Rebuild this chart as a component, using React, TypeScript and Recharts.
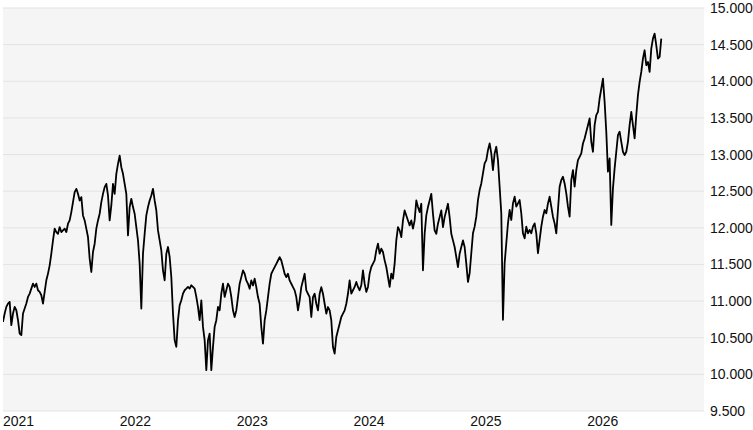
import React from "react";
import { LineChart, Line, XAxis, YAxis, CartesianGrid } from "recharts";

const values2021 = [
  10716, 10830, 10921, 10966, 10989, 10671, 10830, 10921, 10875, 10739, 10557, 10535, 10830, 10898,
  10966, 11057, 11102, 11170, 11238, 11193, 11238, 11148, 11125, 11080, 10966, 11125, 11284, 11375,
  11488, 11647, 11829, 11988, 11942, 11919, 12010, 11942, 11965, 11988, 11942, 12056, 12101, 12215,
  12351, 12487, 12532, 12464, 12373, 12419, 12169, 12101, 11988, 11874, 11579, 11397, 11670, 11783,
  11988, 12101, 12192, 12351, 12464, 12555, 12600, 12442, 12101, 12305, 12600,
];
const values2022 = [
  12464, 12737, 12873, 12986, 12827, 12737, 12600, 12464, 11897, 12283, 12396, 12283, 12192, 12010,
  11829, 11511, 10898, 11647, 11919, 12169, 12283, 12373, 12442, 12532, 12373, 12237, 11965, 11829,
  11692, 11420, 11284, 11647, 11738, 11602, 11329, 10830, 10467, 10376, 10739, 10943, 11011, 11102,
  11148, 11170, 11193, 11170, 11216, 11193, 11170, 11057, 10921, 10739, 11011, 10648, 10467, 10058,
  10467, 10557, 10058, 10376, 10648, 10739, 10921, 10875, 11102, 11238, 11057, 11148, 11238, 11193,
  11057, 10875,
];
const values2023 = [
  10783, 10873, 11055, 11237, 11327, 11418, 11373, 11282, 11237, 11169, 11282, 11214, 11305, 11191,
  11055, 10964, 10646, 10419, 10737, 10873, 11055, 11237, 11373, 11418, 11464, 11509, 11554, 11600,
  11554, 11464, 11373, 11327, 11373, 11282, 11237, 11191, 11146, 11055, 10873, 11010, 11191, 11282,
  11373, 11146, 11100, 11055, 10783, 11055, 11100, 10964, 10873, 11100, 11191, 11100, 10964, 10828,
  10919, 10873, 10737, 10374, 10283, 10510, 10601, 10692, 10783, 10828, 10873, 10964, 11100, 11282,
];
const values2024 = [
  11102, 11148, 11193, 11261, 11193, 11148, 11216, 11420, 11238, 11125, 11193, 11375, 11465, 11511,
  11556, 11692, 11783, 11647, 11715, 11670, 11556, 11465, 11329, 11193, 11375, 11307, 11511, 11829,
  12010, 11965, 11874, 12101, 12237, 12169, 12101, 12033, 12101, 11988, 12101, 12373, 12283, 12215,
  12328, 11420, 11919, 12169, 12283, 12373, 12464, 12192, 11965, 11919, 12056, 12146, 12237, 12010,
  12146, 12237, 12328, 12146, 11919, 11829, 11738, 11602, 11465, 11647, 11738, 11829, 11738, 11511,
  11261,
];
const values2025 = [
  11380, 11653, 11925, 12016, 12152, 12379, 12515, 12606, 12742, 12879, 12924, 13060, 13151, 13015,
  12788, 13015, 13106, 12924, 12561, 12198, 10745, 11517, 11789, 12061, 12243, 12107, 12334, 12425,
  12288, 12334, 12379, 12198, 11925, 11857, 12016, 11925, 11971, 11925, 12016, 12061, 11925, 11653,
  11834, 12016, 12152, 12243, 12198, 12334, 12425, 12288, 12152, 12061, 11925, 12243, 12561, 12652,
  12697, 12606, 12470, 12288, 12152, 12652, 12788, 12561, 12788, 12924, 12969, 13015, 13151,
];
const values2026 = [
  13220, 13311, 13401, 13492, 13174, 13038, 13401, 13538, 13583, 13765, 13901, 14037, 13719, 13311,
  12766, 12947, 12039, 12539, 12811, 13038, 13265, 13311, 13174, 13038, 12993, 13038, 13174, 13401,
  13583, 13401, 13220, 13538, 13810, 13992, 14128, 14309, 14423, 14219, 14264, 14128, 14446, 14582,
  14650, 14491, 14309, 14332, 14582,
];

const yearTicks = [2021, 2022, 2023, 2024, 2025, 2026];
const valueTicks = [9500, 10000, 10500, 11000, 11500, 12000, 12500, 13000, 13500, 14000, 14500, 15000];

const START_YEAR = 2021;
const SAMPLE_STEP_DAYS = 5.21;

const allValues = [
  ...values2021,
  ...values2022,
  ...values2023,
  ...values2024,
  ...values2025,
  ...values2026,
];

const data = allValues.map((v, i) => ({
  t: START_YEAR + (i * SAMPLE_STEP_DAYS) / 365.25,
  value: v,
}));

const FONT = "Arial, 'Liberation Sans', sans-serif";

const fmtValue = (v: number) => {
  const th = Math.floor(v / 1000);
  const rest = String(Math.round(v % 1000)).padStart(3, "0");
  return `${th}.${rest}`;
};

const YearTick = (props: any) => {
  const { x, y, payload } = props;
  return (
    <text x={x} y={y} dy="0.71em" textAnchor="start" fontSize={14} fill="#111" fontFamily={FONT}>
      {payload.value}
    </text>
  );
};

export default function App() {
  return (
    <div style={{ position: "absolute", left: 0, top: 0, width: 753, height: 430, background: "#fff" }}>
      <LineChart
        width={753}
        height={430}
        data={data}
        margin={{ top: 8, right: 0, left: 3, bottom: 0 }}
      >
        <CartesianGrid vertical={false} fill="#f5f5f5" stroke="#e3e3e3" strokeWidth={1} />
        <XAxis
          dataKey="t"
          type="number"
          domain={[2021, 2027]}
          ticks={yearTicks}
          allowDataOverflow
          axisLine={false}
          tickLine={false}
          tickSize={0}
          tickMargin={5}
          height={19}
          tick={<YearTick />}
          interval={0}
        />
        <YAxis
          orientation="right"
          domain={[9500, 15000]}
          ticks={valueTicks}
          allowDataOverflow
          axisLine={false}
          tickLine={false}
          tickSize={0}
          tickMargin={6}
          width={49}
          interval={0}
          tickFormatter={fmtValue}
          tick={{ fontSize: 14, fill: "#111", fontFamily: FONT, textAnchor: "start" }}
        />
        <Line
          type="linear"
          dataKey="value"
          stroke="#000"
          strokeWidth={1.8}
          dot={false}
          isAnimationActive={false}
          strokeLinejoin="round"
        />
      </LineChart>
    </div>
  );
}
